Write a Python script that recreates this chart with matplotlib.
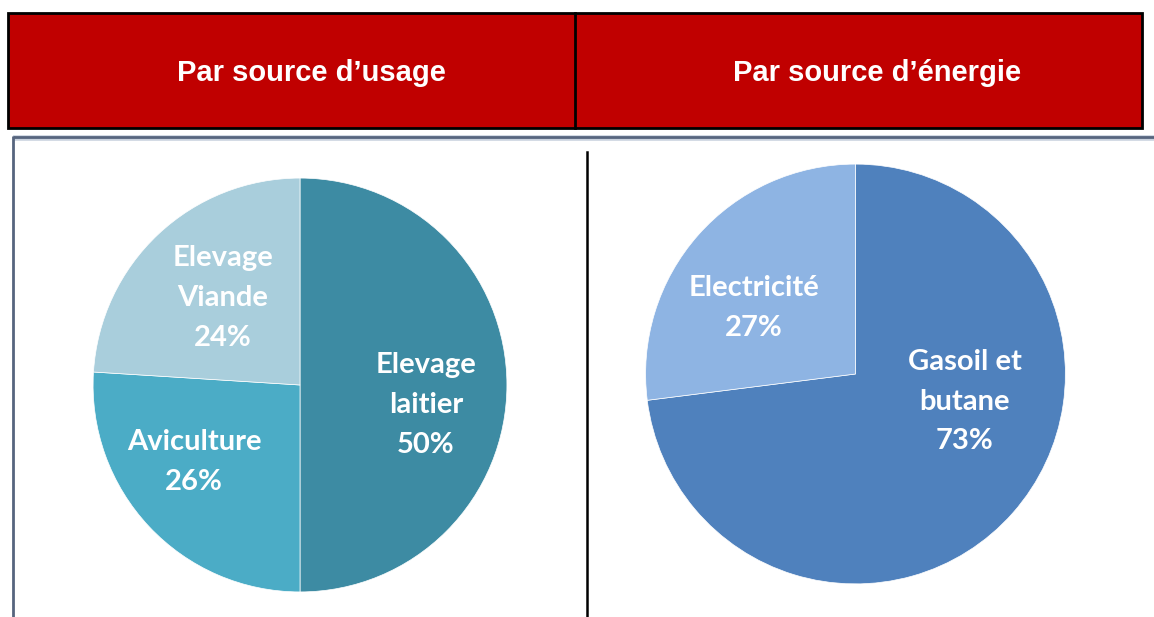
import matplotlib.pyplot as plt
from matplotlib.patches import Rectangle

# data
headers = ["Par source d\u2019usage", "Par source d\u2019\u00e9nergie"]

usage_labels = ["Elevage\nlaitier\n50%", "Aviculture\n26%", "Elevage\nViande\n24%"]
usage_values = [50, 26, 24]
usage_colors = ["#3D8BA3", "#4BACC6", "#A9CEDC"]

energy_labels = ["Gasoil et\nbutane\n73%", "Electricit\u00e9\n27%"]
energy_values = [73, 27]
energy_colors = ["#4F81BD", "#8EB4E3"]

W, H = 1154, 617
fig = plt.figure(figsize=(W / 100, H / 100), dpi=100)
fig.patch.set_facecolor("white")

# overlay in pixel coordinates for the table frame
bg = fig.add_axes([0, 0, 1, 1])
bg.set_xlim(0, W)
bg.set_ylim(H, 0)
bg.axis("off")

bg.add_patch(Rectangle((8, 13), 1134, 115, facecolor="#C00000",
                       edgecolor="black", linewidth=2))
bg.plot([575, 575], [13, 128], color="black", linewidth=2)
bg.text(311, 81, headers[0], color="white", fontsize=21, fontweight="bold",
        family="Liberation Sans", ha="center", va="baseline")
bg.text(877, 81, headers[1], color="white", fontsize=21, fontweight="bold",
        family="Liberation Sans", ha="center", va="baseline")

bg.plot([12.5, W], [137.5, 137.5], color="#C9D2DE", linewidth=4, solid_capstyle="butt")
bg.plot([12.5, W], [137, 137], color="#56657E", linewidth=2, solid_capstyle="butt")
bg.plot([12.5, 12.5], [136, H], color="#56657E", linewidth=2, solid_capstyle="butt")
bg.plot([587, 587], [152, H], color="black", linewidth=1.8)


def make_pie(cx, cy, r, values, colors, labels, label_pos):
    ax = fig.add_axes([(cx - r) / W, (H - cy - r) / H, 2 * r / W, 2 * r / H])
    ax.pie(values, colors=colors, startangle=90, counterclock=False,
           radius=1, wedgeprops=dict(edgecolor="white", linewidth=0.5))
    ax.set_xlim(-1.01, 1.01)
    ax.set_ylim(-1.01, 1.01)
    ax.set_aspect("equal")
    ax.axis("off")
    for lab, (x, y) in zip(labels, label_pos):
        ax.text(x, y, lab, color="white", fontsize=21, fontweight="bold",
                family="Lato", ha="center", va="center", linespacing=1.65)
    return ax


make_pie(300, 385, 209, usage_values, usage_colors, usage_labels,
         [(0.608, -0.096), (-0.512, -0.371), (-0.373, 0.421)])
make_pie(855.5, 374, 212, energy_values, energy_colors, energy_labels,
         [(0.521, -0.132), (-0.483, 0.314)])

fig.savefig("out.png", dpi=100)
